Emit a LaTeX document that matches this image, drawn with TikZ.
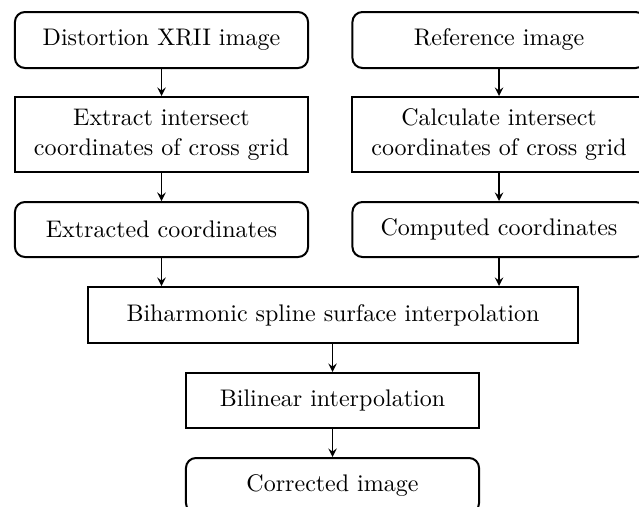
\documentclass[tikz,border=0pt]{standalone}
\usepackage{tikz}
\usetikzlibrary{shapes,arrows}
\tikzstyle{roundbox} = [draw=black, line width=0.9pt, rectangle, rounded corners=4.5pt, align=center,
minimum width=131.9pt, inner sep=0.5ex, font=\fontsize{10.8pt}{13.5pt}\selectfont]
\tikzstyle{stepbox} = [draw=black, line width=0.9pt, rectangle, align=center, minimum width=131.9pt,
inner sep=0.5ex, font=\fontsize{10.8pt}{13.5pt}\selectfont]
\tikzstyle{arrow} = [line width=0.7pt,->,>=stealth]

\begin{document}
\begin{tikzpicture}[x=0.45pt,y=-0.45pt]
                        \useasboundingbox (0,0) rectangle (639,506);
                        \node[roundbox, minimum height=25.2pt] (xrii) at (161.5,40) {Distortion XRII image};
                        \node[roundbox, minimum height=25.2pt] (refimg) at (499,40) {Reference image};
                        \node[stepbox, minimum height=33.75pt] (extract) at (161.5,134.5)
                            {Extract intersect \\ coordinates of cross grid};
                        \node[stepbox, minimum height=33.75pt] (calc) at (499,134.5)
                            {Calculate intersect \\ coordinates of cross grid};
                        \node[roundbox, minimum height=24.75pt] (extcoord) at (161.5,229.5) {Extracted coordinates};
                        \node[roundbox, minimum height=24.75pt] (compcoord) at (499,229.5) {Computed coordinates};
                        \node[stepbox, minimum height=25.2pt, minimum width=220.5pt] (spline) at (333,315)
                            {Biharmonic spline surface interpolation};
                        \node[stepbox, minimum height=24.75pt] (bilin) at (332.5,400.5) {Bilinear interpolation};
                        \node[roundbox, minimum height=24.75pt] (corr) at (332.5,485.5) {Corrected image};

                        \draw[arrow] (xrii) -- (extract);
                        \draw[arrow] (refimg) -- (calc);
                        \draw[arrow] (extract) -- (extcoord);
                        \draw[arrow] (calc) -- (compcoord);
                        \draw[arrow] (extcoord.south) -- (extcoord.south |- spline.north);
                        \draw[arrow] (compcoord.south) -- (compcoord.south |- spline.north);
                        \draw[arrow] (spline.south -| bilin.north) -- (bilin.north);
                        \draw[arrow] (bilin) -- (corr);
                    \end{tikzpicture}
\end{document}
